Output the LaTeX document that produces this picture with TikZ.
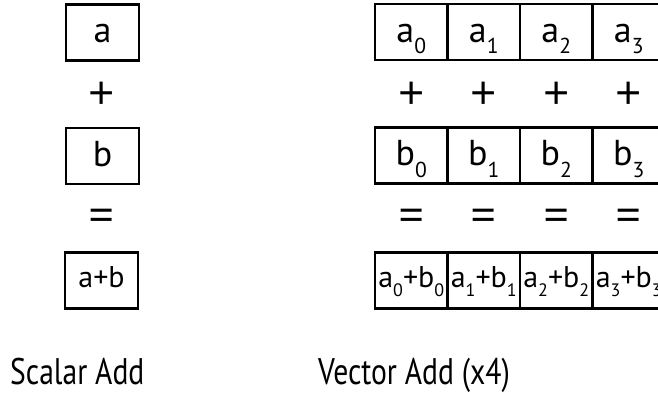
\documentclass[tikz,border=0pt]{standalone}
\usepackage{fontspec}
\setmainfont{PT Sans}
\newfontfamily\capfont[FakeStretch=0.8]{PT Sans}
\newfontfamily\opfont{Open Sans}
\usetikzlibrary{positioning}
\tikzset{
  cell/.style  = {draw, line width=2.4pt, minimum width=72.5pt, minimum height=56pt,
                  inner sep=0pt, text height=27pt, text depth=7pt,
                  font=\fontsize{36}{40}\selectfont},
  rcell/.style = {cell, text height=20pt, text depth=7pt,
                  font=\fontsize{30}{34}\selectfont},
  op/.style    = {inner sep=0pt, font=\opfont\fontsize{46}{50}\selectfont},
  caption/.style = {anchor=base west, inner sep=0pt, text depth=0pt,
                  font=\capfont\fontsize{37}{40}\selectfont},
}
\newcommand\lo[1]{\raisebox{-0.33em}{\scalebox{0.6}{#1}}}
\begin{document}
\begin{tikzpicture}[x=1pt,y=-1pt]
  \clip (0,0) rectangle (658,392);
  % scalar column
  \node[cell] (a) at (102.5,32.5) {a};
  \node[op] (plus) at (102,96) {+};
  \node[cell] (b) at (102.5,156) {b};
  \node[op] (eq) at (102,220) {=};
  \node[rcell, minimum width=73pt] (ab) at (101.5,280.5) {a+b};
  % vector column, four lanes
  \foreach \i in {0,...,3}{
    \node[cell] (a\i) at (411.25+72.5*\i,32) {a\lo{\i}};
    \node[op] (plus\i) at (411.25+72.5*\i,96) {+};
    \node[cell] (b\i) at (411.25+72.5*\i,155.5) {b\lo{\i}};
    \node[op] (eq\i) at (411.25+72.5*\i,220) {=};
    \node[rcell] (ab\i) at (411.25+72.5*\i,280.5) {a\lo{\i}+b\lo{\i}};
  }
  \node[caption] (slbl) at (10,384) {Scalar Add};
  \node[caption] (vlbl) at (318,384) {Vector Add (x4)};
\end{tikzpicture}
\end{document}
